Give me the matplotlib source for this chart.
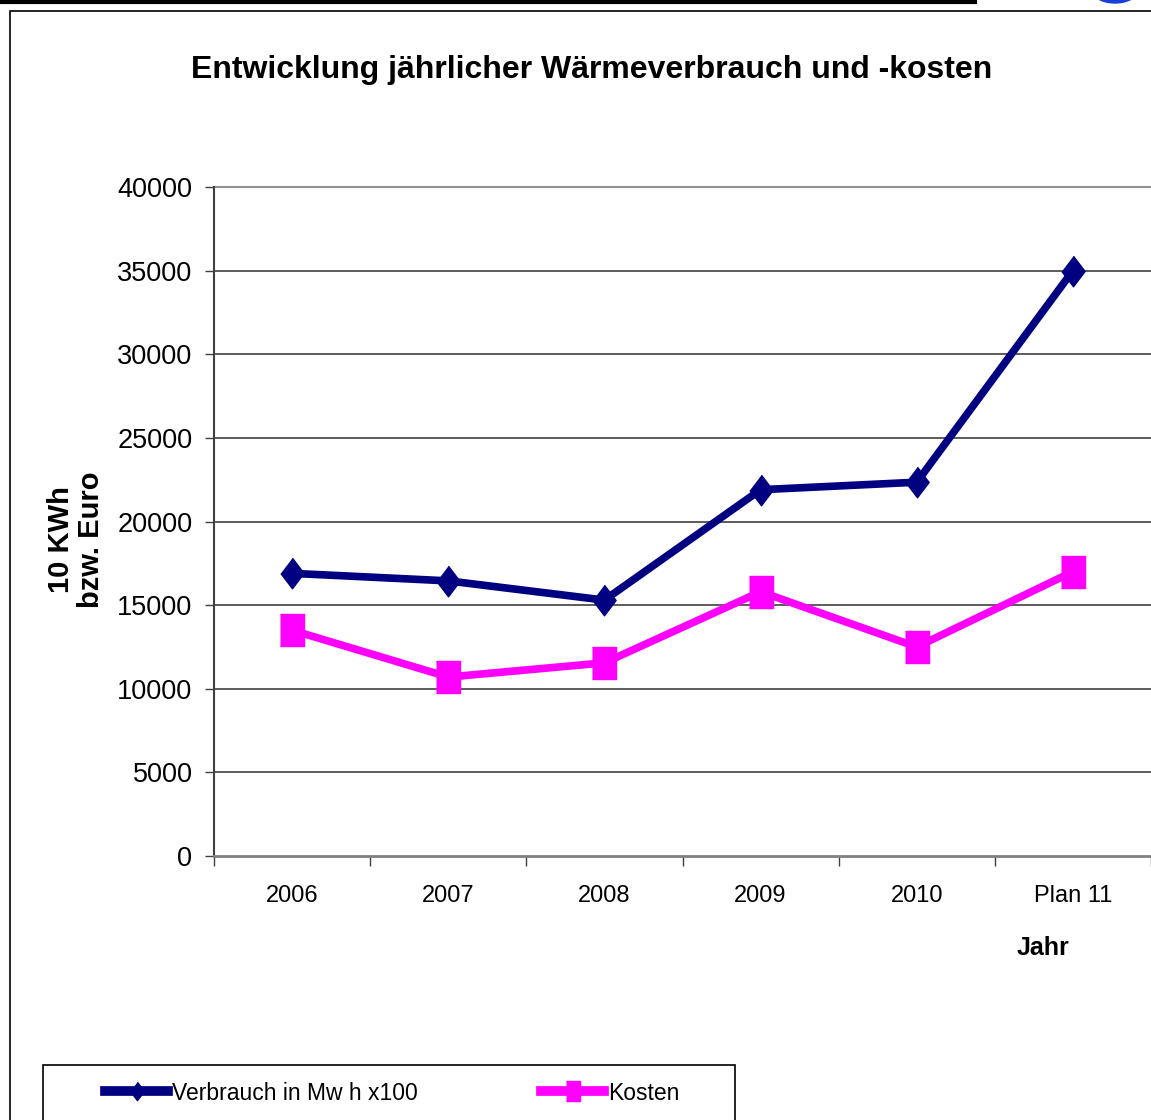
import numpy as np
import matplotlib
matplotlib.use("Agg")
import matplotlib.pyplot as plt
from matplotlib.patches import Rectangle, Ellipse
from matplotlib.lines import Line2D

plt.rcParams['font.family'] = ['Liberation Sans', 'DejaVu Sans']

jahre = ['2006', '2007', '2008', '2009', '2010', 'Plan 11']
verbrauch = [16900, 16450, 15300, 21900, 22350, 35000]
kosten = [13500, 10700, 11550, 15800, 12500, 17000]
y_ticks = [0, 5000, 10000, 15000, 20000, 25000, 30000, 35000, 40000]

W, H = 1151, 1120
fig = plt.figure(figsize=(W / 100, H / 100), dpi=100)

# page decorations
fig.add_artist(Rectangle((10 / W, -0.1), 1.2, (1120 - 11) / H + 0.1, transform=fig.transFigure,
                         fill=False, edgecolor='black', linewidth=1.2))
fig.add_artist(Line2D([0, 975 / W], [1 - 2 / H, 1 - 2 / H], transform=fig.transFigure,
                      color='black', linewidth=3))
fig.add_artist(Ellipse((1115 / W, 1 + 14 / H), 52 / W, 34 / H, transform=fig.transFigure,
                       color='#1a3fd6'))

ax = fig.add_axes([214 / W, 264 / H, (W - 214) / W, 669 / H])

x = np.arange(len(jahre))
diamond = [(0, 0.5), (0.38, 0), (0, -0.5), (-0.38, 0)]
square = [(-0.39, -0.5), (0.39, -0.5), (0.39, 0.5), (-0.39, 0.5)]

ax.plot(x, verbrauch, color='#000080', linewidth=5.5, marker=diamond, markersize=22,
        label='Verbrauch in Mw h x100', zorder=4)
ax.plot(x, kosten, color='#ff00ff', linewidth=5.5, marker=square, markersize=23,
        label='Kosten', zorder=3)

ax.set_xlim(-0.5, len(jahre) - 0.5)
ax.set_ylim(0, 40000)
ax.set_yticks(y_ticks)
ax.set_yticklabels([str(v) for v in y_ticks], fontsize=19.5)
ax.set_xticks(x)
ax.set_xticklabels(jahre, fontsize=17)
ax.set_xticks(np.arange(len(jahre) + 1) - 0.5, minor=True)
ax.tick_params(axis='x', which='major', length=0, pad=21)
ax.tick_params(axis='x', which='minor', length=7, width=1, color='#404040', direction='out')
ax.tick_params(axis='y', length=6.5, width=1, color='#404040', pad=9)

for v in y_ticks[1:-1]:
    ax.axhline(v, color='#303030', linewidth=1.1, zorder=1)
ax.axhline(40000, color='#909090', linewidth=1.5, zorder=1, clip_on=False)

for s in ['top', 'right']:
    ax.spines[s].set_visible(False)
ax.spines['left'].set_color('#404040')
ax.spines['left'].set_linewidth(1.5)
ax.spines['bottom'].set_color('#808080')
ax.spines['bottom'].set_linewidth(2)

fig.text(592 / W, 1 - 70 / H, 'Entwicklung jährlicher Wärmeverbrauch und -kosten',
         ha='center', va='center', fontsize=23, fontweight='bold')
fig.text(76 / W, 1 - 540 / H, '10 KWh\nbzw. Euro', rotation=90,
         ha='center', va='center', fontsize=21, fontweight='bold', linespacing=1.1)
fig.text(1043 / W, 1 - 948 / H, 'Jahr', ha='center', va='center', fontsize=18, fontweight='bold')

# legend box (runs off the bottom edge like the reference)
fig.add_artist(Rectangle((43 / W, -0.1), (735 - 43) / W, (1120 - 1065) / H + 0.1,
                         transform=fig.transFigure, fill=False, edgecolor='black', linewidth=1.2))
leg = fig.legend(loc='center left', bbox_to_anchor=(105 / W, 1 - 1093 / H), ncol=2,
                 fontsize=16.5, frameon=False, handlelength=2.75, handletextpad=0.17,
                 columnspacing=5.4, borderpad=0, borderaxespad=0, markerscale=0.6)
for h in leg.get_lines():
    h.set_linewidth(7)

fig.savefig('out.png', dpi=100)
